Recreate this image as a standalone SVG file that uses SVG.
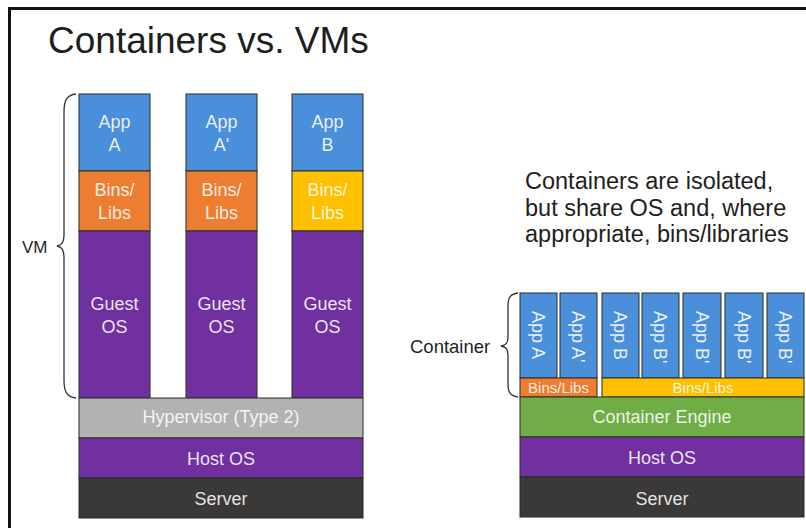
<svg xmlns="http://www.w3.org/2000/svg" width="806" height="528" viewBox="0 0 806 528">
<defs>
<style>
.box{stroke:#2a2a2a;stroke-width:1}
.app{fill:#4a8fd9}
.bins{fill:#ed7d31}
.binsy{fill:#ffc000}
.os{fill:#7030a0}
.hyp{fill:#b2b2b2}
.eng{fill:#70ad47}
.srv{fill:#3b3838}
.lbl{font-family:"Liberation Sans",Arial,sans-serif;font-size:18px;fill:#ffffff;fill-opacity:0.88;text-anchor:middle}
.rl{font-family:"Liberation Sans",Arial,sans-serif;font-size:18px;fill:#ffffff;fill-opacity:0.88}
.sm{font-size:15px}
.dark{font-family:"Liberation Sans",Arial,sans-serif;fill:#1e1e1e}
.brace{fill:none;stroke:#333;stroke-width:1.3}
</style>
</defs>
<rect width="806" height="528" fill="#ffffff"/>
<path d="M9.5,540 L9.5,8.5 L820,8.5" fill="none" stroke="#111" stroke-width="3"/>
<text class="dark" x="48" y="53" font-size="37">Containers vs. VMs</text>

<g id="vm-a">
<rect class="box app" x="79" y="94" width="71" height="77"/>
<rect class="box bins" x="79" y="171" width="71" height="60"/>
<rect class="box os" x="79" y="231" width="71" height="167"/>
<text class="lbl" x="114.5" y="128">App</text><text class="lbl" x="114.5" y="151">A</text>
<text class="lbl" x="114.5" y="196">Bins/</text><text class="lbl" x="114.5" y="219">Libs</text>
<text class="lbl" x="114.5" y="310">Guest</text><text class="lbl" x="114.5" y="333">OS</text>
</g>
<g id="vm-a2">
<rect class="box app" x="186" y="94" width="71" height="77"/>
<rect class="box bins" x="186" y="171" width="71" height="60"/>
<rect class="box os" x="186" y="231" width="71" height="167"/>
<text class="lbl" x="221.5" y="128">App</text><text class="lbl" x="221.5" y="151">A'</text>
<text class="lbl" x="221.5" y="196">Bins/</text><text class="lbl" x="221.5" y="219">Libs</text>
<text class="lbl" x="221.5" y="310">Guest</text><text class="lbl" x="221.5" y="333">OS</text>
</g>
<g id="vm-b">
<rect class="box app" x="292" y="94" width="71" height="77"/>
<rect class="box binsy" x="292" y="171" width="71" height="60"/>
<rect class="box os" x="292" y="231" width="71" height="167"/>
<text class="lbl" x="327.5" y="128">App</text><text class="lbl" x="327.5" y="151">B</text>
<text class="lbl" x="327.5" y="196">Bins/</text><text class="lbl" x="327.5" y="219">Libs</text>
<text class="lbl" x="327.5" y="310">Guest</text><text class="lbl" x="327.5" y="333">OS</text>
</g>
<g id="hypervisor">
<rect class="box hyp" x="79" y="398" width="284" height="40"/>
<text class="lbl" x="221" y="423">Hypervisor (Type 2)</text>
</g>
<g id="vm-host-os">
<rect class="box os" x="79" y="438" width="284" height="40"/>
<text class="lbl" x="221" y="465">Host OS</text>
</g>
<g id="vm-server">
<rect class="box srv" x="79" y="478" width="284" height="40"/>
<text class="lbl" x="221" y="505">Server</text>
</g>
<g id="vm-label">
<text class="dark" x="22" y="253" font-size="17">VM</text>
</g>

<g id="note">
<text class="dark" font-size="23.5"><tspan x="525" y="189">Containers are isolated,</tspan><tspan x="525" y="216">but share OS and, where</tspan><tspan x="525" y="242">appropriate, bins/libraries</tspan></text>
</g>

<g id="c-apps">
<rect class="box app" x="520" y="293" width="37" height="85"/>
<rect class="box app" x="560" y="293" width="37" height="85"/>
<rect class="box app" x="602" y="293" width="37" height="85"/>
<rect class="box app" x="642" y="293" width="37" height="85"/>
<rect class="box app" x="683" y="293" width="38" height="85"/>
<rect class="box app" x="725" y="293" width="38" height="85"/>
<rect class="box app" x="767" y="293" width="37" height="85"/>
<text class="rl" transform="translate(532,311) rotate(90)">App A</text>
<text class="rl" transform="translate(572,311) rotate(90)">App A'</text>
<text class="rl" transform="translate(614,311) rotate(90)">App B</text>
<text class="rl" transform="translate(654,311) rotate(90)">App B'</text>
<text class="rl" transform="translate(695.5,311) rotate(90)">App B'</text>
<text class="rl" transform="translate(737.5,311) rotate(90)">App B'</text>
<text class="rl" transform="translate(779,311) rotate(90)">App B'</text>
</g>
<g id="c-bins-a">
<rect class="box bins" x="520" y="378" width="77" height="19"/>
<text class="lbl sm" x="558.5" y="393">Bins/Libs</text>
</g>
<g id="c-bins-b">
<rect class="box binsy" x="602" y="378" width="202" height="19"/>
<text class="lbl sm" x="703" y="393">Bins/Libs</text>
</g>
<g id="c-engine">
<rect class="box eng" x="520" y="397" width="284" height="40"/>
<text class="lbl" x="662" y="423">Container Engine</text>
</g>
<g id="c-host-os">
<rect class="box os" x="520" y="437" width="284" height="40"/>
<text class="lbl" x="662" y="464">Host OS</text>
</g>
<g id="c-server">
<rect class="box srv" x="520" y="477" width="284" height="40"/>
<text class="lbl" x="662" y="505">Server</text>
</g>
<g id="c-label">
<text class="dark" x="410" y="353" font-size="18.5">Container</text>
</g>

<g id="connectors">
<path class="brace" d="M76,94 C67,95 64,100 64,112 L64,234 C64,242 62,245 57,246 C62,247 64,250 64,258 L64,380 C64,392 67,397 76,398"/>
<path class="brace" d="M518,293 C510,294 508,298 508,306 L508,337 C508,343 506,345 501,346 C506,347 508,349 508,355 L508,384 C508,392 510,396 518,397"/>
</g>
</svg>
